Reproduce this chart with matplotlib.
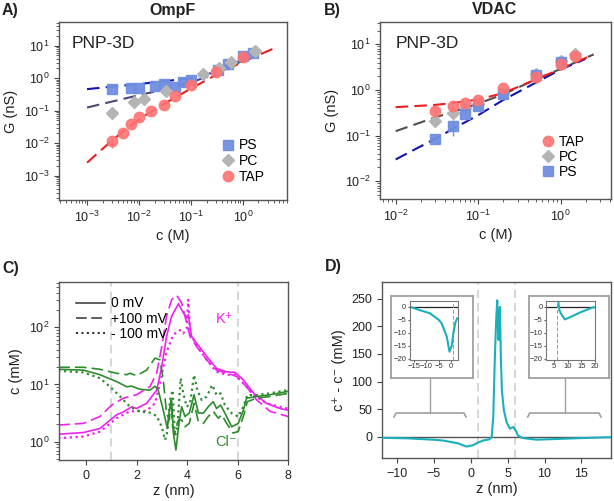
import numpy as np
import matplotlib
matplotlib.use('Agg')
import matplotlib.pyplot as plt
from matplotlib.lines import Line2D

plt.rcParams['font.family'] = ['Liberation Sans', 'DejaVu Sans']
plt.rcParams['mathtext.fontset'] = 'custom'
plt.rcParams['mathtext.rm'] = 'Liberation Sans'
plt.rcParams['mathtext.it'] = 'Liberation Sans:italic'
plt.rcParams['mathtext.bf'] = 'Liberation Sans:bold'

# ---------------- Panel A (OmpF) data ----------------
A_PS_c = [0.003, 0.007, 0.01, 0.02, 0.03, 0.05, 0.07, 0.1, 0.33, 0.52, 1.0, 1.55]
A_PS_G = [0.46, 0.49, 0.51, 0.59, 0.65, 0.55, 0.76, 0.88, 1.78, 2.7, 4.8, 6.0]
A_PC_c = [0.003, 0.008, 0.0125, 0.033, 0.17, 0.35, 0.6, 1.7]
A_PC_G = [0.083, 0.18, 0.23, 0.40, 1.3, 2.0, 3.1, 7.0]
A_TAP_c = [0.003, 0.005, 0.007, 0.01, 0.017, 0.03, 0.05, 0.1, 0.3, 1.0]
A_TAP_G = [0.012, 0.02, 0.04, 0.063, 0.10, 0.147, 0.28, 0.6, 1.6, 4.5]
A_TAP_err_c = [0.003]
A_TAP_err_lo = [0.007]
A_TAP_err_hi = [0.014]

A_fit_c = [0.001, 0.003, 0.01, 0.03, 0.1, 0.3, 1.0]
A_fitPS_G = [0.46, 0.55, 0.66, 0.80, 1.0, 1.55, 3.8]
A_fitPC_G = [0.125, 0.19, 0.30, 0.45, 0.75, 1.35, 3.5]
A_fitTAP_c = [0.001, 0.003, 0.01, 0.03, 0.1, 0.3, 1.0, 4.5]
A_fitTAP_G = [0.0025, 0.012, 0.055, 0.16, 0.48, 1.25, 3.2, 9.0]

# ---------------- Panel B (VDAC) data ----------------
B_TAP_c = [0.03, 0.05, 0.07, 0.1, 0.2, 0.5, 1.0, 1.5]
B_TAP_G = [0.34, 0.44, 0.53, 0.60, 1.12, 1.95, 3.8, 5.6]
B_PC_c = [0.03, 0.05, 0.07, 0.1, 0.2, 0.5, 1.0, 1.5]
B_PC_G = [0.21, 0.31, 0.40, 0.50, 0.85, 2.2, 4.4, 6.2]
B_PS_c = [0.03, 0.05, 0.07, 0.1, 0.2, 0.5, 1.0]
B_PS_G = [0.083, 0.16, 0.29, 0.45, 0.80, 2.1, 4.1]
B_TAP_err_c = [0.03]
B_TAP_err_lo = [0.27]
B_TAP_err_hi = [0.45]
B_PS_err_c = [0.05]
B_PS_err_lo = [0.10]
B_PS_err_hi = [0.22]

B_fit_c = [0.01, 0.03, 0.06, 0.1, 0.2, 0.5, 1.0, 2.5]
B_fitTAP_G = [0.42, 0.47, 0.54, 0.62, 0.85, 1.7, 2.9, 6.0]
B_fitPC_G = [0.125, 0.25, 0.37, 0.50, 0.80, 1.7, 2.9, 6.0]
B_fitPS_c = [0.01, 0.03, 0.06, 0.1, 0.2, 0.5, 1.0, 2.0]
B_fitPS_G = [0.03, 0.085, 0.17, 0.28, 0.60, 1.45, 2.8, 4.8]

# ---------------- Panel C data (log10 of c in mM) ----------------
C_Ksol_z = [-1.1, -0.1, 0.55, 1.21, 1.48, 1.81, 2.0, 2.4, 2.8, 3.0, 3.19, 3.39, 3.66, 3.79, 3.99, 4.05, 4.18, 4.38, 4.78, 5.17, 5.57, 5.9, 6.23, 6.63, 7.15, 7.68, 8.01]
C_Ksol_lg = [0.13, 0.16, 0.23, 0.47, 0.52, 0.61, 0.58, 0.67, 0.90, 1.31, 1.84, 2.19, 2.41, 2.30, 2.16, 2.22, 1.84, 1.72, 1.49, 1.28, 1.22, 1.21, 1.08, 0.85, 0.67, 0.58, 0.55]
C_Kdas_z = [-1.1, -0.1, 0.55, 1.02, 1.48, 2.0, 2.53, 2.8, 3.0, 3.19, 3.39, 3.59, 3.79, 3.92, 4.12, 4.38, 4.78, 5.17, 5.57, 5.97, 6.36, 6.76, 7.29, 8.01]
C_Kdas_lg = [0.29, 0.32, 0.44, 0.64, 0.76, 0.82, 0.96, 1.2, 1.66, 2.19, 2.48, 2.56, 2.42, 2.19, 1.84, 1.66, 1.43, 1.25, 1.20, 1.14, 0.96, 0.73, 0.53, 0.44]
C_Kdot_z = [-1.1, -0.1, 0.55, 1.21, 1.74, 2.4, 2.73, 2.93, 3.19, 3.46, 3.72, 3.85, 3.99, 4.05, 4.12, 4.38, 4.78, 5.17, 5.57, 5.9, 6.23, 6.63, 7.15, 7.68, 8.01]
C_Kdot_lg = [0.06, 0.09, 0.175, 0.41, 0.53, 0.54, 0.67, 1.02, 1.57, 1.87, 1.95, 1.89, 1.98, 2.48, 1.89, 1.69, 1.43, 1.22, 1.17, 1.17, 1.02, 0.82, 0.67, 0.61, 0.58]

C_Clsol_z = [-1.1, -0.1, 0.55, 1.21, 1.61, 1.81, 2.14, 2.53, 2.73, 2.86, 3.06, 3.22, 3.30, 3.39, 3.46, 3.56, 3.70, 3.79, 3.92, 4.09, 4.28, 4.45, 4.65, 4.84, 5.04, 5.17, 5.33, 5.5, 5.77, 6.03, 6.23, 6.36, 6.76, 7.29, 8.01]
C_Clsol_lg = [1.265, 1.25, 1.17, 1.05, 0.96, 0.97, 0.915, 0.90, 0.97, 0.90, 0.55, 0.23, 0.55, 0.73, 0.15, -0.145, 0.38, 0.61, 0.44, 0.50, 0.82, 0.50, 0.50, 0.61, 0.70, 0.58, 0.64, 0.50, 0.26, 0.32, 0.55, 0.76, 0.79, 0.82, 0.88]
C_Cldas_z = [-1.1, -0.1, 0.55, 1.21, 1.61, 1.74, 2.0, 2.4, 2.73, 2.93, 3.06, 3.19, 3.30, 3.37, 3.43, 3.52, 3.66, 3.79, 3.92, 4.09, 4.28, 4.45, 4.65, 4.84, 5.04, 5.24, 5.37, 5.57, 5.83, 6.03, 6.23, 6.39, 6.76, 7.29, 8.01]
C_Cldas_lg = [1.30, 1.30, 1.265, 1.195, 1.17, 1.195, 1.154, 1.25, 1.46, 1.43, 1.08, 0.50, 0.38, 0.73, 0.26, 0.15, 0.38, 0.38, 0.26, 0.32, 0.67, 0.35, 0.32, 0.44, 0.53, 0.41, 0.47, 0.32, 0.15, 0.18, 0.44, 0.70, 0.76, 0.79, 0.845]
C_Cldot_z = [-1.1, -0.1, 0.55, 0.95, 1.35, 1.74, 2.14, 2.53, 2.8, 3.0, 3.13, 3.22, 3.33, 3.43, 3.52, 3.62, 3.75, 3.85, 3.99, 4.12, 4.28, 4.41, 4.58, 4.78, 5.0, 5.17, 5.33, 5.5, 5.77, 6.03, 6.23, 6.39, 6.76, 7.29, 8.01]
C_Cldot_lg = [1.24, 1.21, 1.11, 0.96, 0.79, 0.61, 0.525, 0.507, 0.45, 0.26, 0.03, 0.175, 0.73, 0.90, 0.088, 0.26, 1.108, 0.845, 0.61, 0.67, 1.166, 0.90, 0.729, 0.787, 0.99, 0.816, 0.845, 0.641, 0.496, 0.438, 0.612, 0.816, 0.816, 0.845, 0.904]

# ---------------- Panel D data ----------------
D_z = [-18, -16.6, -12, -8.5, -5, -3.75, -1.7, -0.6, 0.3, 1.0, 1.8, 2.5, 2.84, 3.06, 3.28, 3.45, 3.6, 3.7, 3.78, 3.96, 4.09, 4.23, 4.5, 4.86, 5.3, 5.75, 6.1, 6.4, 6.9, 7.4, 8.9, 10.7, 15.0, 19.2, 20.0]
D_v = [0.3, 0, -1.5, -2.5, -5, -6.4, -11.5, -17.3, -15, -10, -6, -4.5, 0, 36, 145, 210, 247, 200, 175, 235, 145, 84, 48, 27, 15, 18, 12, 3, -1.3, -2.5, -4.9, -4.1, -2, -0.3, -0.2]
# z-ranges shown in the two insets (bath regions)
D_inset_left_range = (-18, 2.5)
D_inset_right_range = (6.0, 20)

# ---------------- figure ----------------
W, H = 614, 501
fig = plt.figure(figsize=(W / 100, H / 100), dpi=100)


def rect(l, t, r, b):
    return [l / W, 1 - b / H, (r - l) / W, (b - t) / H]


def fx(x):
    return x / W


def fy(y):
    return 1 - y / H


TICK = 9
LAB = 10.5
SPINE = '#555555'
TXT = '#222222'


def style(ax):
    for s in ax.spines.values():
        s.set_color(SPINE)
        s.set_linewidth(1.0)
    ax.tick_params(which='both', labelsize=TICK, colors='#444444', labelcolor=TXT, direction='out')
    ax.tick_params(which='major', length=3.5)
    ax.tick_params(which='minor', length=2)


C_PS = '#6f8ee0'
C_PC = '#b4b4b4'
C_TAP = '#ff7272'
L_RED = '#e8201e'
L_BLUE = '#1414b4'
DASH = (0, (6, 3))

# Panel A
axA = fig.add_axes(rect(59, 22, 287, 200))
axA.set_xscale('log')
axA.set_yscale('log')
axA.plot(A_fit_c, A_fitPC_G, color='#4a4a78', ls=DASH, lw=1.5, zorder=2)
axA.plot(A_fit_c, A_fitPS_G, color=L_BLUE, ls=DASH, lw=1.5, zorder=2)
axA.plot(A_fitTAP_c, A_fitTAP_G, color=L_RED, ls=DASH, lw=1.5, zorder=2)
axA.vlines(A_TAP_err_c, A_TAP_err_lo, A_TAP_err_hi, color=C_TAP, lw=1, zorder=3)
hPS = axA.plot(A_PS_c, A_PS_G, 's', color=C_PS, ms=6.5, alpha=0.95, ls='none', label='PS', zorder=4)[0]
hPC = axA.plot(A_PC_c, A_PC_G, 'D', color=C_PC, ms=6, ls='none', label='PC', zorder=4)[0]
hTAP = axA.plot(A_TAP_c, A_TAP_G, 'o', color=C_TAP, ms=7.5, alpha=0.9, ls='none', label='TAP', zorder=5)[0]
axA.set_xlim(10 ** -3.54, 10 ** 0.85)
axA.set_ylim(10 ** -3.75, 10 ** 1.73)
style(axA)
axA.set_xlabel('c (M)', fontsize=LAB, color=TXT, labelpad=3)
axA.set_ylabel('G (nS)', fontsize=LAB, color=TXT, labelpad=4)
axA.legend(handles=[hPS, hPC, hTAP], loc='lower left', bbox_to_anchor=(0.68, 0.06), frameon=False,
           fontsize=10, handletextpad=0.2, labelspacing=0.12, handlelength=1.2, borderaxespad=0)
fig.text(fx(72), fy(43), 'PNP-3D', fontsize=12.5, va='center', ha='left', color=TXT)
fig.text(fx(172), fy(10), 'OmpF', fontsize=11.5, fontweight='bold', ha='center', va='center', color=TXT)
fig.text(fx(2), fy(10), 'A)', fontsize=11.5, fontweight='bold', ha='left', va='center', color=TXT)

# Panel B
axB = fig.add_axes(rect(380, 22, 611, 199))
axB.set_xscale('log')
axB.set_yscale('log')
axB.plot(B_fit_c, B_fitPC_G, color='#505050', ls=DASH, lw=1.5, zorder=2)
axB.plot(B_fitPS_c, B_fitPS_G, color=L_BLUE, ls=DASH, lw=1.5, zorder=2)
axB.plot(B_fit_c, B_fitTAP_G, color=L_RED, ls=DASH, lw=1.5, zorder=2)
axB.vlines(B_TAP_err_c, B_TAP_err_lo, B_TAP_err_hi, color=C_TAP, lw=1, zorder=3)
axB.vlines(B_PS_err_c, B_PS_err_lo, B_PS_err_hi, color=C_PS, lw=1, zorder=3)
bTAP = axB.plot(B_TAP_c, B_TAP_G, 'o', color=C_TAP, ms=7.5, alpha=0.9, ls='none', label='TAP', zorder=5)[0]
bPC = axB.plot(B_PC_c, B_PC_G, 'D', color=C_PC, ms=6, ls='none', label='PC', zorder=4)[0]
bPS = axB.plot(B_PS_c, B_PS_G, 's', color=C_PS, ms=6.5, alpha=0.95, ls='none', label='PS', zorder=4)[0]
axB.set_xlim(10 ** -2.19, 10 ** 0.61)
axB.set_ylim(10 ** -2.39, 10 ** 1.49)
style(axB)
axB.set_xlabel('c (M)', fontsize=LAB, color=TXT, labelpad=3)
axB.set_ylabel('G (nS)', fontsize=LAB, color=TXT, labelpad=4)
axB.legend(handles=[bTAP, bPC, bPS], loc='lower left', bbox_to_anchor=(0.665, 0.08), frameon=False,
           fontsize=10, handletextpad=0.2, labelspacing=0.1, handlelength=1.2, borderaxespad=0)
fig.text(fx(396), fy(44), 'PNP-3D', fontsize=12.5, va='center', ha='left', color=TXT)
fig.text(fx(495), fy(10), 'VDAC', fontsize=11.5, fontweight='bold', ha='center', va='center', color=TXT)
fig.text(fx(324), fy(10), 'B)', fontsize=11.5, fontweight='bold', ha='left', va='center', color=TXT)

# Panel C
MAG = '#ee22ee'
GRN = '#2e8b2e'
axC = fig.add_axes(rect(59, 282, 288, 460))
axC.set_yscale('log')
for zline in (1, 6):
    axC.axvline(zline, color='#d0d0d0', ls=(0, (5, 3)), lw=1.2, zorder=1)
lw_c = 1.2
axC.plot(C_Ksol_z, 10 ** np.array(C_Ksol_lg), color=MAG, lw=lw_c, ls='-')
axC.plot(C_Kdas_z, 10 ** np.array(C_Kdas_lg), color=MAG, lw=lw_c, ls=(0, (7, 3)))
axC.plot(C_Kdot_z, 10 ** np.array(C_Kdot_lg), color=MAG, lw=1.6, ls=(0, (1, 1.6)))
axC.plot(C_Clsol_z, 10 ** np.array(C_Clsol_lg), color=GRN, lw=lw_c, ls='-')
axC.plot(C_Cldas_z, 10 ** np.array(C_Cldas_lg), color=GRN, lw=lw_c, ls=(0, (7, 3)))
axC.plot(C_Cldot_z, 10 ** np.array(C_Cldot_lg), color=GRN, lw=1.6, ls=(0, (1, 1.6)))
axC.set_xlim(-1.07, 8)
axC.set_ylim(10 ** -0.32, 10 ** 2.79)
axC.set_xticks([0, 2, 4, 6, 8])
style(axC)
axC.set_xlabel('z (nm)', fontsize=LAB, color=TXT, labelpad=2)
axC.set_ylabel('c (mM)', fontsize=LAB, color=TXT, labelpad=4)
leg_handles = [Line2D([], [], color='#333333', lw=1.1, ls='-'),
               Line2D([], [], color='#333333', lw=1.1, ls=(0, (7, 3))),
               Line2D([], [], color='#333333', lw=1.5, ls=(0, (1, 1.6)))]
axC.legend(leg_handles, ['0 mV', '+100 mV', '- 100 mV'], loc='upper left', bbox_to_anchor=(0.05, 0.95),
           frameon=False, fontsize=10, handlelength=2.1, handletextpad=0.4, labelspacing=0.08, borderaxespad=0)
axC.text(5.15, 10 ** 2.15, 'K⁺', color=MAG, fontsize=10.5, va='center', ha='left')
axC.text(5.1, 10 ** 0.0, 'Cl⁻', color=GRN, fontsize=10.5, va='center', ha='left')
fig.text(fx(2), fy(269), 'C)', fontsize=11.5, fontweight='bold', ha='left', va='center', color=TXT)

# Panel D
TEAL = '#1ab0bb'
axD = fig.add_axes(rect(382, 282, 611, 458))
for zline in (1, 6):
    axD.axvline(zline, color='#d0d0d0', ls=(0, (5, 3)), lw=1.2, zorder=1)
axD.axhline(0, color='#555555', lw=1.0, zorder=2)
axD.plot(D_z, D_v, color=TEAL, lw=1.5, zorder=3)
axD.set_xlim(-12, 19)
axD.set_ylim(-38, 280)
axD.set_xticks([-10, -5, 0, 5, 10, 15])
axD.set_yticks([0, 50, 100, 150, 200, 250])
style(axD)
axD.set_xlabel('z (nm)', fontsize=LAB, color=TXT, labelpad=2)
axD.set_ylabel('c⁺ - c⁻ (mM)', fontsize=LAB, color=TXT, labelpad=4)
fig.text(fx(325), fy(267), 'D)', fontsize=11.5, fontweight='bold', ha='left', va='center', color=TXT)

Dz = np.array(D_z)
Dv = np.array(D_v)
# insets
for (ol, ot, orr, ob), (il, it, ir, ib), xl, xt, vline, zr in [
        ((391, 296, 473, 378), (409.7, 300.7, 457.7, 360), (-16.6, 2.7), [-15, -10, -5, 0], 1, D_inset_left_range),
        ((528.7, 296, 609, 378), (546, 300.7, 595, 360), (2.0, 20.0), [5, 10, 15, 20], 6, D_inset_right_range)]:
    fr = fig.add_axes(rect(ol, ot, orr, ob), zorder=3)
    fr.set_xticks([])
    fr.set_yticks([])
    for s in fr.spines.values():
        s.set_color('#a0a0a0')
        s.set_linewidth(1.3)
    ins = fig.add_axes(rect(il, it, ir, ib), zorder=4)
    ins.axhline(0, color='#222222', lw=0.9)
    ins.axvline(vline, color='#999999', lw=0.7, ls=(0, (4, 2)))
    m = (Dz >= zr[0]) & (Dz <= zr[1])
    ins.plot(Dz[m], Dv[m], color=TEAL, lw=1.5)
    ins.set_xlim(*xl)
    ins.set_ylim(-20.5, 2.3)
    ins.set_xticks(xt)
    ins.set_yticks([0, -5, -10, -15, -20])
    for s in ins.spines.values():
        s.set_color('#777777')
        s.set_linewidth(0.8)
    ins.tick_params(labelsize=5.5, length=1.5, pad=1, colors='#555555', labelcolor='#333333')

# brackets linking insets to regions
for (bl, br, bc) in [(394, 466, 430), (527.7, 601, 565.3)]:
    fig.add_artist(Line2D([fx(bl), fx(bl + 2), fx(br - 2), fx(br)], [fy(417), fy(413), fy(413), fy(417)],
                          color='#a0a0a0', lw=1.2))
    fig.add_artist(Line2D([fx(bc), fx(bc)], [fy(413), fy(378)], color='#a0a0a0', lw=1.0))

fig.savefig('out.png', dpi=100)
